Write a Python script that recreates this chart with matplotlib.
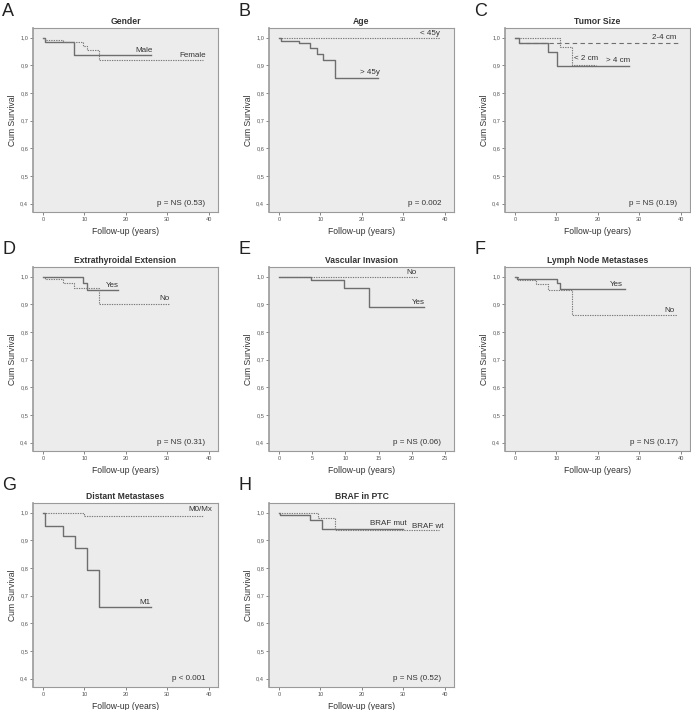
import matplotlib
matplotlib.use("Agg")
import matplotlib.pyplot as plt
from matplotlib.ticker import FuncFormatter

plt.rcParams['font.family'] = ['Liberation Sans', 'DejaVu Sans']

# ---------------- data (time points / cumulative survival) ----------------
# A Gender
a_male_t = [0, 0.5, 7.6, 26.1]
a_male_s = [1.0, 0.983, 0.936, 0.936]
a_female_t = [0, 0.6, 4.8, 9.6, 10.6, 13.6, 38.7]
a_female_s = [1.0, 0.993, 0.986, 0.970, 0.955, 0.921, 0.921]
# B Age
b_young_t = [0, 38.8]
b_young_s = [1.0, 1.0]
b_old_t = [0, 0.5, 4.8, 7.4, 9.2, 10.5, 13.6, 23.8]
b_old_s = [1.0, 0.988, 0.979, 0.961, 0.942, 0.918, 0.853, 0.853]
# C Tumor size
c_24_t = [0, 1.0, 39.6]
c_24_s = [1.0, 0.979, 0.979]
c_lt2_t = [0, 10.8, 13.7, 19.5]
c_lt2_s = [1.0, 0.968, 0.903, 0.903]
c_gt4_t = [0, 1.0, 8.0, 10.1, 27.4]
c_gt4_s = [1.0, 0.979, 0.947, 0.899, 0.899]
# D Extrathyroidal extension
d_yes_t = [0, 9.6, 10.6, 18.1]
d_yes_s = [1.0, 0.976, 0.952, 0.952]
d_no_t = [0, 0.4, 4.8, 7.6, 13.4, 30.5]
d_no_s = [1.0, 0.993, 0.978, 0.960, 0.903, 0.903]
# E Vascular invasion
e_no_t = [0, 21.0]
e_no_s = [1.0, 1.0]
e_yes_t = [0, 4.8, 9.8, 13.6, 21.9]
e_yes_s = [1.0, 0.988, 0.958, 0.890, 0.890]
# F Lymph node metastases
f_yes_t = [0, 0.4, 10.1, 10.9, 26.5]
f_yes_s = [1.0, 0.993, 0.978, 0.957, 0.957]
f_no_t = [0, 0.7, 5.0, 8.0, 13.7, 39.0]
f_no_s = [1.0, 0.989, 0.972, 0.951, 0.862, 0.862]
# G Distant metastases
g_m0_t = [0, 9.8, 38.7]
g_m0_s = [1.0, 0.988, 0.988]
g_m1_t = [0, 0.6, 4.8, 7.7, 10.6, 13.5, 26.1]
g_m1_s = [1.0, 0.952, 0.916, 0.871, 0.793, 0.659, 0.659]
# H BRAF in PTC
h_mut_t = [0, 0.3, 7.4, 10.4, 30.0]
h_mut_s = [1.0, 0.993, 0.972, 0.942, 0.942]
h_wt_t = [0, 9.4, 13.4, 38.5]
h_wt_s = [1.0, 0.979, 0.936, 0.936]

panel_letters = ['A', 'B', 'C', 'D', 'E', 'F', 'G', 'H']
panel_titles = ['Gender', 'Age', 'Tumor Size', 'Extrathyroidal Extension',
                'Vascular Invasion', 'Lymph Node Metastases',
                'Distant Metastases', 'BRAF in PTC']
p_texts = ['p = NS (0.53)', 'p = 0.002', 'p = NS (0.19)', 'p = NS (0.31)',
           'p = NS (0.06)', 'p = NS (0.17)', 'p < 0.001', 'p = NS (0.52)']
y_ticks = [0.4, 0.5, 0.6, 0.7, 0.8, 0.9, 1.0]

SOLID = dict(color='#6e6e6e', lw=1.0, ls='-')
DOT = dict(color='#7a7a7a', lw=0.8, ls=(0, (1.2, 1.0)))
DASH = dict(color='#6e6e6e', lw=0.8, ls=(0, (4, 3)))

panels = [
    [(a_male_t, a_male_s, SOLID, 'Male', 22.2, 0.952),
     (a_female_t, a_female_s, DOT, 'Female', 33.0, 0.936)],
    [(b_young_t, b_young_s, DOT, '< 45y', 34.0, 1.016),
     (b_old_t, b_old_s, SOLID, '> 45y', 19.5, 0.874)],
    [(c_24_t, c_24_s, DASH, '2-4 cm', 33.0, 1.002),
     (c_lt2_t, c_lt2_s, DOT, '< 2 cm', 14.3, 0.924),
     (c_gt4_t, c_gt4_s, SOLID, '> 4 cm', 22.0, 0.917)],
    [(d_yes_t, d_yes_s, SOLID, 'Yes', 15.2, 0.968),
     (d_no_t, d_no_s, DOT, 'No', 28.0, 0.920)],
    [(e_no_t, e_no_s, DOT, 'No', 19.2, 1.016),
     (e_yes_t, e_yes_s, SOLID, 'Yes', 20.0, 0.906)],
    [(f_yes_t, f_yes_s, SOLID, 'Yes', 23.0, 0.972),
     (f_no_t, f_no_s, DOT, 'No', 36.0, 0.877)],
    [(g_m0_t, g_m0_s, DOT, 'M0/Mx', 35.0, 1.013),
     (g_m1_t, g_m1_s, SOLID, 'M1', 23.3, 0.677)],
    [(h_mut_t, h_mut_s, SOLID, 'BRAF mut', 22.0, 0.962),
     (h_wt_t, h_wt_s, DOT, 'BRAF wt', 32.0, 0.950)],
]
x_max = [40, 40, 40, 40, 25, 40, 40, 40]

fig = plt.figure(figsize=(6.91, 7.10), dpi=100)
fig.patch.set_facecolor('white')

W, H = 691.0, 710.0
col_left = [33, 269, 505]
row_top = [28, 267, 503]
aw, ah = 185, 184

frac = FuncFormatter(lambda v, p: ('%.1f' % v).replace('.', ','))

for i in range(8):
    r, c = divmod(i, 3)
    left = col_left[c] / W
    bottom = 1 - (row_top[r] + ah) / H
    ax = fig.add_axes([left, bottom, aw / W, ah / H])
    ax.set_facecolor('#ececec')
    xm = x_max[i]
    ax.set_xlim(-0.06 * xm, 1.055 * xm)
    ax.set_ylim(0.37, 1.035)
    for t, s, st, lab, lx, ly in panels[i]:
        ax.step(t, s, where='post', **st)
        ax.text(lx, ly, lab, fontsize=5.8, color='#333333', ha='left', va='center')
    ax.text(0.955 * xm + (1.0 if xm == 40 else 0.6), 0.40, p_texts[i], fontsize=5.8,
            color='#333333', ha='right', va='center')
    ax.set_yticks(y_ticks)
    ax.yaxis.set_major_formatter(frac)
    step = 5 if xm == 25 else 10
    ax.set_xticks(list(range(0, xm + 1, step)))
    ax.tick_params(labelsize=4.1, colors='#555555', length=2, width=0.5, pad=1.5)
    for sp in ax.spines.values():
        sp.set_color('#9a9a9a')
        sp.set_linewidth(0.8)
    ax.spines['left'].set_linewidth(1.2)
    ax.set_xlabel('Follow-up (years)', fontsize=6.2, color='#333333', labelpad=4)
    ax.set_ylabel('Cum Survival', fontsize=6.2, color='#333333', labelpad=2)
    ax.set_title(panel_titles[i], fontsize=6.2, fontweight='bold', color='#333333', pad=3)
    fig.text((col_left[c] - 31) / W, 1 - (row_top[r] - 17) / H, panel_letters[i],
             fontsize=13, color='#222222', ha='left', va='center')

fig.savefig('out.png', dpi=100)
